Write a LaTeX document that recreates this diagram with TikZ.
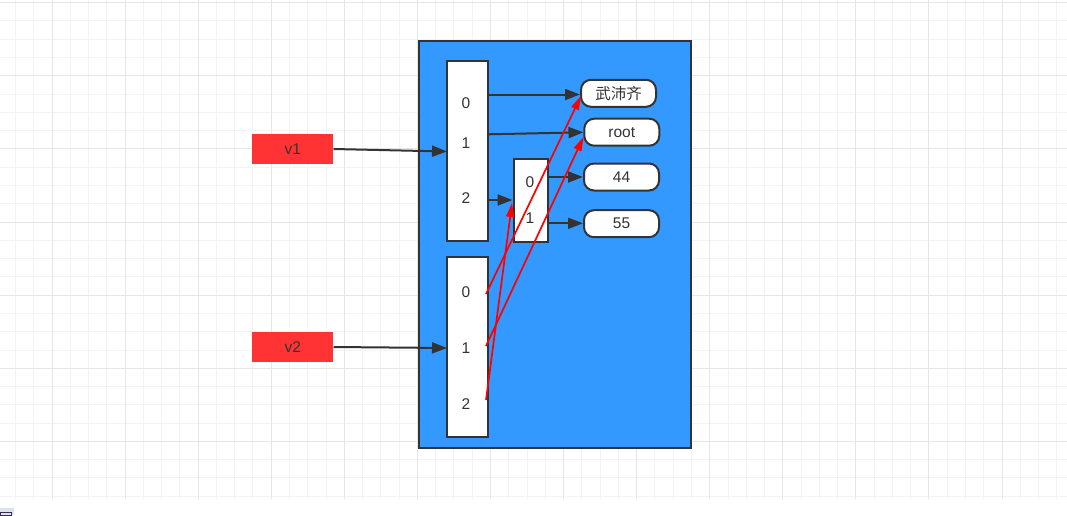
\documentclass[tikz,border=0pt]{standalone}
\usepackage{fontspec}
\setmainfont{Liberation Sans}
\newfontfamily\cjk{Noto Sans CJK SC}
\usetikzlibrary{arrows.meta}
\definecolor{bluebg}{HTML}{3399FF}
\definecolor{redbox}{HTML}{FF3333}
\definecolor{edge}{HTML}{333333}
\definecolor{txt}{HTML}{333333}
\definecolor{gridminor}{HTML}{F3F3F3}
\definecolor{gridmajor}{HTML}{E6E6E6}
\definecolor{iconbg}{HTML}{DDE3EC}
\definecolor{iconfg}{HTML}{3A2A5A}
\begin{document}
\begin{tikzpicture}[x=1pt,y=-1pt,
  every node/.style={font=\fontsize{15.5}{18}\selectfont, text=txt, inner sep=0pt},
  container/.style={draw=edge, line width=2pt, fill=bluebg, minimum width=272pt, minimum height=407pt},
  arraybox/.style={draw=edge, line width=2pt, fill=white},
  varbox/.style={fill=redbox, minimum width=81pt, minimum height=30pt},
  valbox/.style={draw=edge, line width=2pt, fill=white, rounded corners=10pt, minimum width=75pt, minimum height=27pt},
  blk/.style={draw=edge, line width=2pt, -{Triangle[length=15pt,width=11pt]}},
  rd/.style={draw=red, line width=1.7pt, -{Triangle[length=14pt,width=8pt]}}
]
\useasboundingbox (0,0) rectangle (1067,515);
\fill[white] (0,0) rectangle (1067,515);
% grid
\foreach \k in {0,...,58} {
  \draw[gridminor, line width=1pt] ({-2.81+18.27*\k},0) -- ({-2.81+18.27*\k},499);
}
\foreach \k in {0,...,27} {
  \draw[gridminor, line width=1pt] (0,{2.7+18.28*\k}) -- (1067,{2.7+18.28*\k});
}
\foreach \k in {0,...,14} {
  \draw[gridmajor, line width=1pt] ({52+73.08*\k},0) -- ({52+73.08*\k},499);
}
\foreach \k in {0,...,6} {
  \draw[gridmajor, line width=1pt] (0,{2.7+73.12*\k}) -- (1067,{2.7+73.12*\k});
}
% small corner icon
\fill[iconbg] (0,508) rectangle (14,515);
\draw[iconfg, line width=0.8pt] (0.4,512.8) rectangle (11,515);

% container
\node[container] (box) at (555,244.5) {};
% arrays
\node[arraybox, minimum width=41pt, minimum height=180pt] (arr1) at (467,151.3) {};
\node[arraybox, minimum width=41pt, minimum height=180pt] (arr2) at (467,347) {};
\node[arraybox, minimum width=34pt, minimum height=83pt] (sm) at (530.5,200) {};
% array labels
\node (a1r0) at (466,103) {0};
\node (a1r1) at (466,143) {1};
\node (a1r2) at (466,198) {2};
\node (a2r0) at (466,292) {0};
\node (a2r1) at (466,348) {1};
\node (a2r2) at (466,404) {2};
\node (s0) at (530,182) {0};
\node (s1) at (530,218) {1};
% variables
\node[varbox] (v1) at (292.8,149) {v1};
\node[varbox] (v2) at (292.8,347) {v2};
% values
\node[valbox] (w) at (618.5,93.3) {\cjk 武沛齐};
\node[valbox] (root) at (621.8,132.2) {root};
\node[valbox] (n44) at (621.5,177) {44};
\node[valbox] (n55) at (621.5,223.7) {55};

% black connectors
\coordinate (v1in) at (447,151.5);
\coordinate (v2in) at (447,348);
\draw[blk] (v1.east) -- (v1in);
\draw[blk] (v2.east) -- (v2in);
\coordinate (o0) at (488,94.5);
\coordinate (o1) at (488,134.3);
\coordinate (o2) at (488,200);
\coordinate (rt) at (583.5,132.3);
\coordinate (s0o) at (548,177);
\coordinate (s1o) at (548,223.3);
\draw[blk] (o0) -- (w.west |- o0);
\draw[blk] (o1) -- (rt);
\draw[blk] (o2) -- (sm.west |- o2);
\draw[blk] (s0o) -- (n44.west |- s0o);
\draw[blk] (s1o) -- (n55.west |- s1o);

% red connectors
\coordinate (r0) at (486,294);
\coordinate (r1) at (486,346);
\coordinate (r2) at (486,400);
\coordinate (t0) at (581,96);
\coordinate (t1) at (583.5,137);
\coordinate (t2) at (512,203);
\draw[rd] (r0) -- (t0);
\draw[rd] (r1) -- (t1);
\draw[rd] (r2) -- (t2);
\end{tikzpicture}
\end{document}
